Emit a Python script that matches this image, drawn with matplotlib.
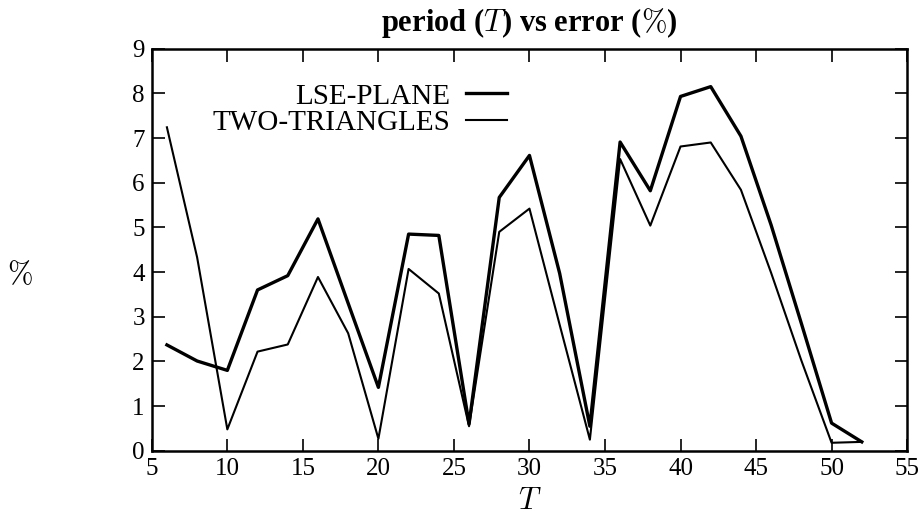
import matplotlib
matplotlib.use("Agg")
import matplotlib.pyplot as plt

plt.rcParams['font.family'] = ['Liberation Serif', 'DejaVu Serif']
plt.rcParams['mathtext.fontset'] = 'cm'

# period T and error (%) for both methods
periods = [6, 8, 10, 12, 14, 16, 18, 20, 22, 24, 26, 28, 30, 32, 34, 36, 38, 40, 42, 44, 46, 48, 50, 52]
lse_plane = [2.37, 2.01, 1.80, 3.60, 3.92, 5.19, 3.30, 1.42, 4.85, 4.82, 0.60, 5.67,
             6.61, 3.97, 0.55, 6.91, 5.82, 7.93, 8.15, 7.04, 5.05, 2.85, 0.62, 0.20]
two_triangles = [7.24, 4.33, 0.48, 2.22, 2.38, 3.89, 2.63, 0.27, 4.07, 3.52, 0.55, 4.90,
                 5.42, 2.82, 0.25, 6.53, 5.04, 6.81, 6.90, 5.84, 3.98, 2.02, 0.18, 0.20]

xticks = [5, 10, 15, 20, 25, 30, 35, 40, 45, 50, 55]
yticks = [0, 1, 2, 3, 4, 5, 6, 7, 8, 9]

fig = plt.figure(figsize=(9.2, 5.23), dpi=100)
ax = fig.add_axes([0.165, 0.138, 0.821, 0.769])

ax.plot(periods, lse_plane, color='black', linewidth=2.4, label='LSE-PLANE')
ax.plot(periods, two_triangles, color='black', linewidth=1.5, label='TWO-TRIANGLES')

ax.set_xlim(5, 55)
ax.set_ylim(0, 9)
ax.set_xticks(xticks)
ax.set_yticks(yticks)
ax.tick_params(direction='in', length=9, width=1.2, top=True, right=True,
               labelsize=18, pad=5)
for s in ax.spines.values():
    s.set_linewidth(1.8)

ax.set_title(r'period ($T$) vs error ($\%$)', fontsize=22, fontweight='bold', pad=13)
ax.set_xlabel(r'$T$', fontsize=22)
ax.xaxis.set_label_coords(0.5, -0.09)
ax.set_ylabel(r'$\%$', fontsize=22, rotation=0)
ax.yaxis.set_label_coords(-0.175, 0.40)

leg = ax.legend(loc='upper right', bbox_to_anchor=(0.497, 0.965), frameon=False,
                markerfirst=False, fontsize=21, handlelength=1.4, handletextpad=0.55,
                labelspacing=0.0, borderpad=0.2)

plt.savefig('out.png', dpi=100)
plt.close()
